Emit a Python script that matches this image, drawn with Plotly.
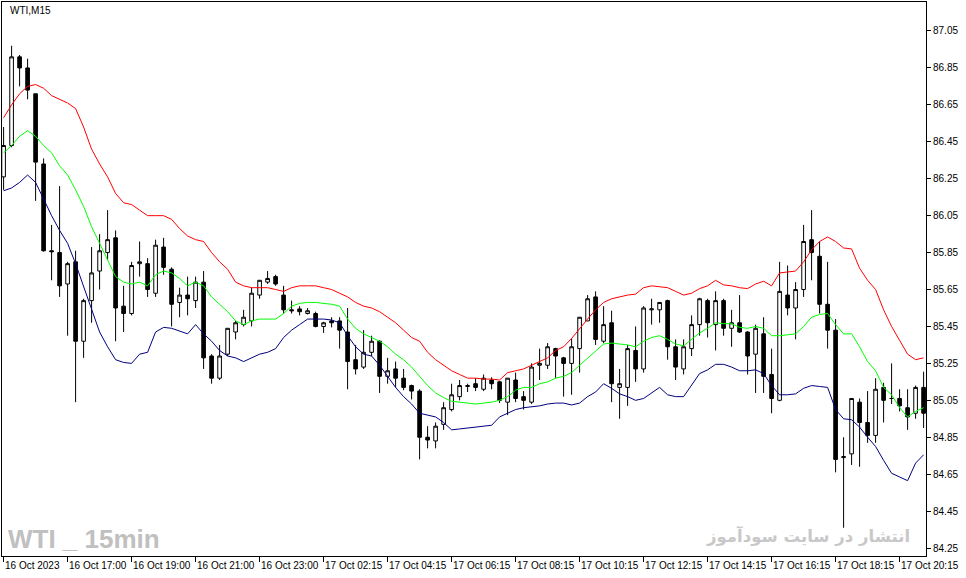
import plotly.graph_objects as go

# WTI M15 candles, 16 Oct 15:00 -> 17 Oct 20:45
opens = [
    86.26, 86.43, 86.91, 86.85, 86.71, 86.33, 85.86, 85.85, 85.68, 85.80,
    85.37, 85.59, 85.75, 85.85, 85.93, 85.56, 85.52, 85.79, 85.79, 85.63,
    85.88, 85.76, 85.58, 85.62, 85.59, 85.69, 85.29, 85.17, 85.30, 85.42,
    85.46, 85.48, 85.62, 85.69, 85.72, 85.62, 85.54, 85.545, 85.52, 85.52,
    85.45, 85.48, 85.48, 85.42, 85.27, 85.23, 85.31, 85.37, 85.18, 85.22,
    85.17, 85.13, 85.10, 84.85, 84.83, 84.92, 85.00, 85.07, 85.125, 85.14,
    85.11, 85.16, 85.15, 85.04, 85.16, 85.07, 85.04, 85.24, 85.24, 85.33,
    85.28, 85.25, 85.33, 85.48, 85.61, 85.37, 85.47, 85.12, 85.12, 85.32,
    85.22, 85.54, 85.54, 85.59, 85.34, 85.22, 85.33, 85.46, 85.59, 85.46,
    85.59, 85.44, 85.47, 85.42, 85.30, 85.41, 85.19, 85.05, 85.62, 85.55,
    85.65, 85.92, 85.83, 85.57, 85.43, 84.74, 84.76, 85.04, 84.93, 84.86,
    85.12, 85.06, 85.06, 85.01, 84.98, 85.12,
]
highs = [
    86.53, 86.97, 86.92, 86.90, 86.71, 86.36, 86.00, 86.21, 85.80, 85.86,
    85.60, 85.88, 85.95, 86.08, 85.97, 85.67, 85.80, 85.91, 85.82, 85.92,
    85.93, 85.77, 85.66, 85.72, 85.72, 85.75, 85.30, 85.35, 85.44, 85.48,
    85.54, 85.66, 85.70, 85.75, 85.73, 85.67, 85.59, 85.56, 85.55, 85.53,
    85.475, 85.50, 85.50, 85.55, 85.35, 85.43, 85.40, 85.375, 85.28, 85.26,
    85.22, 85.135, 85.11, 84.91, 84.93, 85.04, 85.14, 85.16, 85.14, 85.17,
    85.19, 85.175, 85.155, 85.17, 85.20, 85.10, 85.25, 85.33, 85.36, 85.335,
    85.285, 85.385, 85.50, 85.62, 85.64, 85.56, 85.535, 85.22, 85.35, 85.45,
    85.56, 85.60, 85.58, 85.595, 85.38, 85.38, 85.51, 85.605, 85.60, 85.64,
    85.60, 85.54, 85.62, 85.425, 85.46, 85.50, 85.33, 85.80, 85.78, 85.69,
    86.00, 86.08, 85.91, 85.80, 85.49, 84.85, 85.06, 85.06, 85.10, 85.17,
    85.145, 85.25, 85.11, 85.11, 85.13, 85.205,
]
lows = [
    86.19, 86.42, 86.75, 86.68, 86.13, 85.855, 85.70, 85.61, 85.40, 85.04,
    85.28, 85.47, 85.65, 85.81, 85.37, 85.42, 85.51, 85.72, 85.61, 85.61,
    85.73, 85.45, 85.50, 85.51, 85.55, 85.22, 85.14, 85.16, 85.29, 85.38,
    85.45, 85.45, 85.60, 85.68, 85.67, 85.52, 85.52, 85.51, 85.515, 85.445,
    85.415, 85.445, 85.33, 85.11, 85.19, 85.22, 85.29, 85.09, 85.14, 85.12,
    85.105, 85.055, 84.73, 84.79, 84.79, 84.89, 84.99, 85.05, 85.095, 85.10,
    85.10, 85.11, 85.035, 84.97, 85.04, 85.00, 85.03, 85.16, 85.22, 85.17,
    85.07, 85.08, 85.20, 85.48, 85.35, 85.36, 85.04, 84.95, 85.02, 85.15,
    85.20, 85.46, 85.47, 85.27, 85.16, 85.19, 85.29, 85.40, 85.39, 85.32,
    85.40, 85.34, 85.415, 85.19, 85.09, 85.09, 84.98, 85.045, 85.51, 85.38,
    85.61, 85.70, 85.52, 85.33, 84.66, 84.36, 84.70, 84.69, 84.82, 84.82,
    84.93, 85.03, 84.99, 84.89, 84.95, 84.90,
]
closes = [
    86.43, 86.91, 86.85, 86.73, 86.34, 85.86, 85.855, 85.67, 85.79, 85.37,
    85.59, 85.74, 85.86, 85.92, 85.55, 85.52, 85.78, 85.80, 85.65, 85.89,
    85.77, 85.57, 85.62, 85.60, 85.69, 85.28, 85.17, 85.29, 85.44, 85.47,
    85.50, 85.63, 85.70, 85.71, 85.68, 85.54, 85.535, 85.53, 85.535, 85.45,
    85.47, 85.47, 85.43, 85.26, 85.22, 85.31, 85.37, 85.18, 85.21, 85.17,
    85.12, 85.10, 84.85, 84.835, 84.91, 85.01, 85.08, 85.13, 85.13, 85.12,
    85.17, 85.14, 85.05, 85.17, 85.06, 85.05, 85.23, 85.25, 85.34, 85.29,
    85.25, 85.34, 85.50, 85.60, 85.38, 85.46, 85.14, 85.14, 85.33, 85.22,
    85.55, 85.545, 85.58, 85.34, 85.23, 85.34, 85.46, 85.60, 85.47, 85.59,
    85.44, 85.47, 85.42, 85.29, 85.44, 85.18, 85.06, 85.64, 85.55, 85.65,
    85.91, 85.85, 85.57, 85.43, 84.73, 84.745, 85.06, 84.93, 84.86, 85.11,
    85.05, 85.06, 85.02, 84.96, 85.12, 84.98,
]

band_upper = [
    86.58, 86.65, 86.71, 86.75, 86.76, 86.74, 86.70, 86.68, 86.66, 86.63,
    86.53, 86.41, 86.33, 86.26, 86.17, 86.12, 86.11, 86.08, 86.05, 86.05,
    86.05, 86.03, 85.98, 85.94, 85.92, 85.91, 85.85, 85.80, 85.76, 85.69,
    85.67, 85.66, 85.66, 85.66, 85.65, 85.64, 85.66, 85.67, 85.67, 85.67,
    85.66, 85.65, 85.63, 85.61, 85.58, 85.56, 85.55, 85.53, 85.50, 85.47,
    85.43, 85.39, 85.37, 85.31, 85.27, 85.24, 85.21, 85.19, 85.17, 85.17,
    85.165, 85.165, 85.16, 85.20, 85.21, 85.22, 85.24, 85.26, 85.28, 85.32,
    85.34, 85.385, 85.44, 85.49, 85.54, 85.58, 85.60, 85.61, 85.62, 85.625,
    85.66, 85.67, 85.665, 85.66, 85.64, 85.62, 85.63, 85.655, 85.67, 85.70,
    85.675, 85.67, 85.66, 85.655, 85.68, 85.695, 85.67, 85.74, 85.745, 85.75,
    85.80, 85.865, 85.91, 85.935, 85.91, 85.875, 85.87, 85.765, 85.70, 85.65,
    85.54, 85.45, 85.375, 85.30, 85.27, 85.28,
]
band_middle = [
    86.39, 86.43, 86.48, 86.51, 86.48, 86.43, 86.39, 86.32, 86.27, 86.19,
    86.10, 85.99, 85.90, 85.81, 85.72, 85.69, 85.68, 85.69, 85.67, 85.73,
    85.75, 85.74, 85.71, 85.67, 85.69, 85.67, 85.61, 85.57, 85.53, 85.48,
    85.46, 85.48, 85.49, 85.49, 85.49, 85.52, 85.56, 85.575, 85.58, 85.58,
    85.575, 85.57, 85.56, 85.49, 85.44, 85.41, 85.39, 85.37, 85.34, 85.30,
    85.27, 85.23, 85.18, 85.13, 85.09, 85.065, 85.045, 85.04, 85.035, 85.03,
    85.035, 85.04, 85.05, 85.07, 85.105, 85.12, 85.12, 85.14, 85.15, 85.17,
    85.18, 85.20, 85.24, 85.28, 85.32, 85.355, 85.36, 85.355, 85.35, 85.34,
    85.37, 85.39, 85.40, 85.38, 85.355, 85.345, 85.38, 85.415, 85.44, 85.47,
    85.465, 85.465, 85.445, 85.44, 85.45, 85.44, 85.40, 85.40, 85.405, 85.41,
    85.45, 85.50, 85.515, 85.52, 85.46, 85.41, 85.41, 85.34, 85.26, 85.21,
    85.12, 85.08, 85.01, 84.96, 84.99, 85.01,
]
band_lower = [
    86.185, 86.20, 86.23, 86.27, 86.23, 86.14, 86.05, 85.97, 85.90, 85.79,
    85.665, 85.54, 85.42, 85.34, 85.27, 85.255, 85.25, 85.30, 85.31, 85.42,
    85.445, 85.44, 85.425, 85.41, 85.46, 85.41, 85.37, 85.32, 85.29, 85.28,
    85.26, 85.28, 85.30, 85.31, 85.33, 85.39, 85.43, 85.46, 85.49, 85.49,
    85.49, 85.485, 85.47, 85.40, 85.34, 85.30, 85.29, 85.24, 85.18, 85.12,
    85.07, 85.03, 84.98, 84.97, 84.96, 84.93, 84.89, 84.895, 84.90, 84.905,
    84.91, 84.915, 84.96, 84.98, 85.00, 85.01, 85.015, 85.02, 85.03, 85.035,
    85.035, 85.025, 85.035, 85.07, 85.095, 85.14, 85.115, 85.085, 85.07, 85.05,
    85.06, 85.09, 85.12, 85.08, 85.07, 85.07, 85.13, 85.195, 85.215, 85.245,
    85.245, 85.23, 85.21, 85.21, 85.215, 85.195, 85.13, 85.08, 85.08, 85.085,
    85.115, 85.13, 85.125, 85.12, 85.00, 84.95, 84.945, 84.905, 84.85, 84.80,
    84.725, 84.655, 84.635, 84.615, 84.71, 84.755,
]

time_labels = [
    "16 Oct 2023", "16 Oct 17:00", "16 Oct 19:00", "16 Oct 21:00", "16 Oct 23:00",
    "17 Oct 02:15", "17 Oct 04:15", "17 Oct 06:15", "17 Oct 08:15", "17 Oct 10:15",
    "17 Oct 12:15", "17 Oct 14:15", "17 Oct 16:15", "17 Oct 18:15", "17 Oct 20:15",
]
label_every = 8
price_ticks = [
    84.25, 84.45, 84.65, 84.85, 85.05, 85.25, 85.45, 85.65,
    85.85, 86.05, 86.25, 86.45, 86.65, 86.85, 87.05,
]

bars = list(range(len(opens)))
label_bars = [i * label_every for i in range(len(time_labels))]
axis_font = dict(family="Liberation Sans, Arial, sans-serif", size=10, color="black")

fig = go.Figure()
fig.add_trace(go.Candlestick(
    x=bars, open=opens, high=highs, low=lows, close=closes,
    increasing=dict(line=dict(color="black", width=1), fillcolor="white"),
    decreasing=dict(line=dict(color="black", width=1), fillcolor="black"),
    whiskerwidth=0, showlegend=False, hoverinfo="skip",
))
for vals, colour in [(band_upper, "#ff0000"), (band_middle, "#00ff00"), (band_lower, "#000080")]:
    fig.add_trace(go.Scatter(
        x=bars, y=vals, mode="lines", line=dict(color=colour, width=1),
        showlegend=False, hoverinfo="skip",
    ))

# MT4-style date labels sit to the right of their tick
for b, txt in zip(label_bars, time_labels):
    fig.add_annotation(
        x=b, y=0, xref="x", yref="paper", text=txt, showarrow=False,
        xanchor="left", yanchor="top", yshift=-2, xshift=-1, font=axis_font,
    )

fig.add_annotation(
    x=0.006, y=0.984, xref="paper", yref="paper", text="WTI,M15", showarrow=False,
    xanchor="left", yanchor="middle", font=axis_font,
)
fig.add_annotation(
    x=0.004, y=0.031, xref="paper", yref="paper", text="<b>WTI _ 15min</b>", showarrow=False,
    xanchor="left", yanchor="middle",
    font=dict(family="Liberation Sans, sans-serif", size=26, color="#c0c0c0"),
)
fig.add_annotation(
    x=0.985, y=0.036, xref="paper", yref="paper", text="<b>انتشار در سایت سودآموز</b>",
    showarrow=False, xanchor="right", yanchor="middle",
    font=dict(family="DejaVu Sans, sans-serif", size=16.5, color="#c8c8c8"),
)

fig.update_layout(
    width=966, height=578,
    margin=dict(l=2, r=40, t=2, b=22),
    paper_bgcolor="white", plot_bgcolor="white",
    boxgap=0.35,
    xaxis=dict(
        range=[-0.2, 115.3], rangeslider=dict(visible=False),
        showgrid=False, zeroline=False, showline=True, mirror=True,
        linecolor="black", linewidth=1,
        tickmode="array", tickvals=label_bars, showticklabels=False,
        ticks="outside", ticklen=5, tickcolor="black", tickwidth=1,
    ),
    yaxis=dict(
        range=[84.207, 87.207], side="right",
        showgrid=False, zeroline=False, showline=True, mirror=True,
        linecolor="black", linewidth=1,
        tickmode="array", tickvals=price_ticks,
        ticktext=[f"{v:.2f}" for v in price_ticks],
        ticks="outside", ticklen=4, tickcolor="black", tickwidth=1,
        tickfont=axis_font,
    ),
)

fig.write_html(
    "out.html",
    config={"displayModeBar": False},
    post_script="document.body.style.margin = '0';",
)
